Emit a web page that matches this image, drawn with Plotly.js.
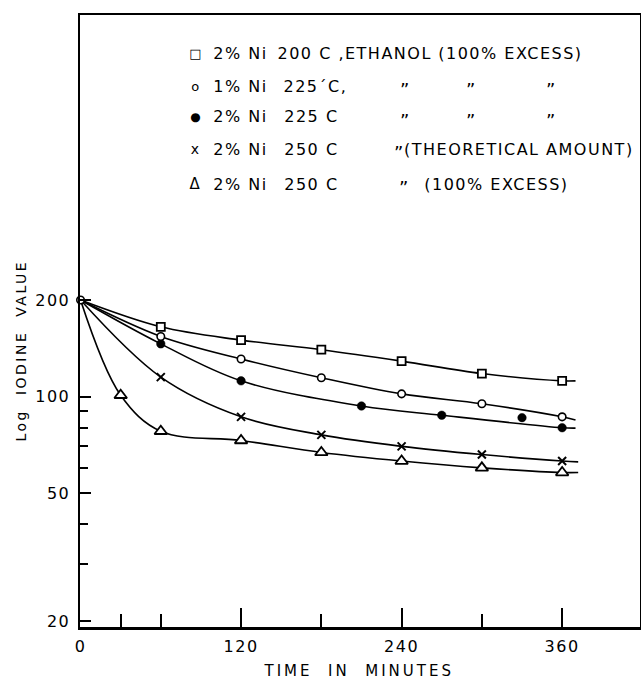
<!DOCTYPE html>
<html><head><meta charset="utf-8">
<script src="https://cdn.plot.ly/plotly-3.0.1.min.js"></script>
<style>
html,body{margin:0;padding:0;background:#fff;}
#chart text{letter-spacing:1.5px;}
#chart text[style*="font-size: 14px"]{letter-spacing:2.5px;}
#chart text[style*="font-size: 15px"]{letter-spacing:3px;}
#chart text[style*="font-size: 18px"]{letter-spacing:0px;}
</style></head>
<body><div id="chart" style="width:641px;height:681px;"></div>
<script>
// ---- data (time in minutes, iodine value) ----
const sqTime = [60, 120, 180, 240, 300, 360];
const sqVal  = [165, 150, 140, 129, 118, 112];
const ocTime = [0, 60, 120, 180, 240, 300, 360];
const ocVal  = [200, 154, 131, 114.5, 102, 95, 86.5];
const fcTime = [60, 120, 210, 270, 330, 360];
const fcVal  = [146, 112, 93.5, 87.5, 86, 80];
const xTime  = [60, 120, 180, 240, 300, 360];
const xVal   = [115, 86.5, 76, 70, 66, 63];
const trTime = [30, 60, 120, 180, 240, 300, 360];
const trVal  = [101, 78, 73, 67, 63, 60, 58];

// hand-drawn smooth curves
const sqCurveT = [0, 60, 120, 180, 240, 300, 360, 370];
const sqCurveV = [200, 165, 150, 140, 129, 118, 112, 112];
const ocCurveT = [0, 60, 120, 180, 240, 300, 360, 370];
const ocCurveV = [200, 154, 131, 114.5, 102, 95, 86.5, 84.5];
const fcCurveT = [0, 60, 120, 210, 270, 360, 370];
const fcCurveV = [200, 146, 112, 93.5, 87.5, 80, 79.8];
const xCurveT  = [0, 60, 120, 180, 240, 300, 360, 372];
const xCurveV  = [200, 115, 86.5, 76, 70, 66, 63, 62.6];
const trCurveT = [0, 30, 60, 120, 180, 240, 300, 360, 372];
const trCurveV = [200, 101, 78, 73, 67, 63, 60, 58, 58];

// ---- ticks ----
const xMajor = [0, 120, 240, 360];
const xMinor = [30, 60, 180, 300];
const yMajor = [20, 50, 100, 200];
const yMinor = [30, 40, 60, 70, 80, 90];

// ---- legend text ----
const legSymbols  = ['□', 'o', '●', 'x', 'Δ'];
const legCatalyst = ['2% Ni', '1% Ni', '2% Ni', '2% Ni', '2% Ni'];
const legTemp     = ['200 C ,ETHANOL', '225´C,', '225 C', '250 C', '250 C'];
const legNote     = ['(100% EXCESS)', '', '', '(THEORETICAL AMOUNT)', '(100% EXCESS)'];
const legDitto    = [0, 3, 3, 1, 1];
const xTitle = 'TIME\u00a0\u00a0IN\u00a0\u00a0MINUTES';
const yTitle = 'Log\u00a0\u00a0IODINE\u00a0\u00a0VALUE';

// ---- geometry ----
const L = 80, T = 15, W = 560, H = 612;
const px = x => (x - L) / W;
const py = y => 1 - (y - T) / H;

function curve(t, v) {
  return {x: t, y: v, mode: 'lines', line: {color: '#000', width: 1.6, shape: 'spline', smoothing: 1},
          hoverinfo: 'skip', cliponaxis: false};
}
function pts(t, v, symbol, size, fill, lw) {
  return {x: t, y: v, mode: 'markers', cliponaxis: false,
          marker: {symbol: symbol, size: size, color: fill, line: {color: '#000', width: lw}}};
}

const data = [
  curve(sqCurveT, sqCurveV), curve(ocCurveT, ocCurveV), curve(fcCurveT, fcCurveV),
  curve(xCurveT, xCurveV), curve(trCurveT, trCurveV),
  pts(sqTime, sqVal, 'square', 8, '#fff', 1.8),
  pts(fcTime, fcVal, 'circle', 8.5, '#000', 0.5),
  pts(xTime, xVal, 'x-thin', 8, '#000', 2),
  pts(trTime, trVal, 'triangle-up', 11, '#fff', 1.8),
  pts(ocTime, ocVal, 'circle', 7.5, '#fff', 1.6)
];

const rowsY = [53, 86, 117, 149, 184];
const dittoX3 = [404, 470, 550];
const annotations = [];
function ann(text, x, y, xanchor, size, extra) {
  const a = {text: text, xref: 'paper', yref: 'paper', x: px(x), y: py(y), xanchor: xanchor,
             yanchor: 'middle', showarrow: false, borderpad: 0, font: {size: size, color: '#000'}};
  return Object.assign(a, extra || {});
}
for (let i = 0; i < 5; i++) {
  const y = rowsY[i];
  const symSize = [13, 13, 12, 14, 15][i];
  annotations.push(ann(legSymbols[i], 196, y, 'center', symSize));
  annotations.push(ann(legCatalyst[i], 216, y, 'left', 16));
  annotations.push(ann(legTemp[i], 287, y, 'left', 16));
  if (legDitto[i] === 3) {
    dittoX3.forEach(dx => annotations.push(ann('”', dx, y + 3, 'center', 18)));
  } else if (legDitto[i] === 1) {
    annotations.push(ann('”', i === 3 ? 398 : 403, y + 3, 'center', 18));
  }
  if (legNote[i]) {
    const nx = i === 0 ? 447 : (i === 3 ? 418 : 433);
    annotations.push(ann(legNote[i], nx, y, 'left', 16));
  }
}
annotations.push(ann(xTitle, 358, 671, 'center', 15));
annotations.push(ann(yTitle, 21, 351, 'center', 14, {textangle: -90}));

const layout = {
  width: 641, height: 681,
  margin: {l: L, r: 641 - L - W, t: T, b: 681 - T - H, pad: 0},
  paper_bgcolor: '#fff', plot_bgcolor: '#fff',
  showlegend: false,
  font: {family: 'DejaVu Sans, sans-serif', color: '#000', size: 16},
  xaxis: {
    range: [-0.4, 418.2], tickmode: 'array', tickvals: xMajor, ticktext: xMajor.map(String),
    ticks: 'inside', ticklen: 19, tickwidth: 2, tickcolor: '#000',
    showline: true, linewidth: 2.5, linecolor: '#000', mirror: true,
    showgrid: false, zeroline: false, tickfont: {size: 16}, ticklabelstandoff: 3,
    minor: {tickmode: 'array', tickvals: xMinor, ticks: 'inside', ticklen: 13, tickwidth: 2, tickcolor: '#000'}
  },
  yaxis: {
    type: 'log', range: [1.2823, 3.1889], tickmode: 'array', tickvals: yMajor, ticktext: yMajor.map(String),
    ticks: 'inside', ticklen: 11, tickwidth: 2, tickcolor: '#000',
    showline: true, linewidth: 2.5, linecolor: '#000', mirror: true,
    showgrid: false, zeroline: false, tickfont: {size: 16}, ticklabelstandoff: 4,
    minor: {tickmode: 'array', tickvals: yMinor, ticks: 'inside', ticklen: 8, tickwidth: 2, tickcolor: '#000'}
  },
  annotations: annotations
};

Plotly.newPlot('chart', data, layout, {displayModeBar: false, staticPlot: true});
</script>
</body></html>
